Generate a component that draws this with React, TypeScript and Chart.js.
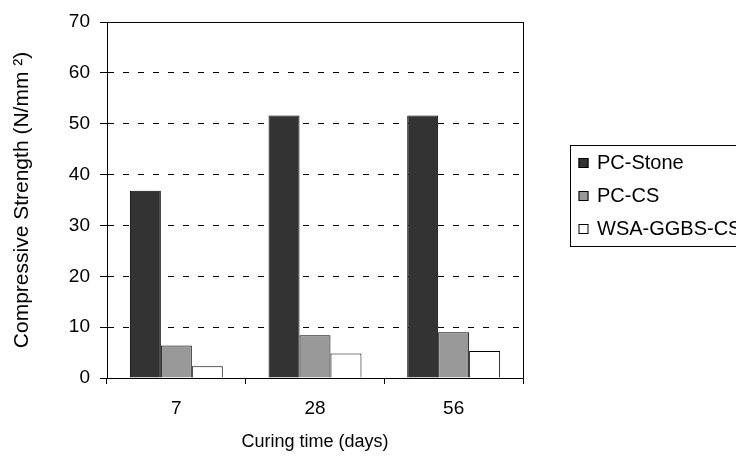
import React, { useEffect, useRef } from "react";
import { Chart, registerables } from "chart.js";

Chart.register(...registerables);

const categories = ["7", "28", "56"];
const seriesLabels = ["PC-Stone", "PC-CS", "WSA-GGBS-CS"];
const pcStone = [36.8, 51.6, 51.6];
const pcCs = [6.4, 8.4, 9.0];
const wsaGgbsCs = [2.3, 4.8, 5.3];
const seriesColors = ["#333333", "#999999", "#ffffff"];
const yMin = 0;
const yMax = 70;
const yStep = 10;
const xTitle = "Curing time (days)";
const yTitle = "Compressive Strength (N/mm ²)";

const FONT = "'Liberation Sans', Arial, sans-serif";
const FS = 19;

const frameAndLegend = {
  id: "frameAndLegend",
  afterDraw(chart: any) {
    const { ctx, chartArea } = chart;
    ctx.save();
    ctx.strokeStyle = "#000";
    ctx.lineWidth = 1;
    ctx.setLineDash([]);
    ctx.strokeRect(
      Math.round(chartArea.left) + 0.5,
      Math.round(chartArea.top) + 0.5,
      Math.round(chartArea.right - chartArea.left),
      Math.round(chartArea.bottom - chartArea.top)
    );
    // legend
    const L = 570.5;
    const T = 145.5;
    const rowH = 33;
    const boxH = 101;
    ctx.strokeStyle = "#000";
    ctx.strokeRect(L, T, 260, boxH);
    ctx.font = `20px ${FONT}`;
    ctx.textBaseline = "middle";
    ctx.textAlign = "left";
    chart.data.datasets.forEach((ds: any, i: number) => {
      const cy = T + 17 + i * rowH;
      const mx = L + 8;
      const my = Math.round(cy - 5);
      ctx.fillStyle = ds.backgroundColor;
      ctx.fillRect(mx, my, 10, 10);
      ctx.strokeStyle = "#000";
      ctx.strokeRect(mx + 0.5, my + 0.5, 9, 9);
      ctx.fillStyle = "#000";
      ctx.fillText(ds.label, mx + 18.5, cy + 1);
    });
    ctx.restore();
  },
};

export default function App() {
  const ref = useRef<HTMLCanvasElement>(null);
  useEffect(() => {
    if (!ref.current) return;
    const datasetsValues = [pcStone, pcCs, wsaGgbsCs];
    const chart = new Chart(ref.current, {
      type: "bar",
      data: {
        labels: categories,
        datasets: datasetsValues.map((vals, i) => ({
          label: seriesLabels[i],
          data: vals,
          backgroundColor: seriesColors[i],
          borderColor: "#000",
          borderWidth: 1,
          categoryPercentage: 0.67,
          barPercentage: 1,
        })),
      },
      options: {
        responsive: false,
        animation: false,
        devicePixelRatio: 1,
        layout: { padding: { left: 0, top: 22, right: 213, bottom: 0 } },
        plugins: {
          legend: { display: false },
          tooltip: { enabled: false },
          title: { display: false },
        },
        scales: {
          x: {
            type: "category",
            offset: true,
            grid: {
              offset: true,
              drawOnChartArea: false,
              drawTicks: true,
              tickLength: 6,
              color: "#000",
              tickColor: "#000",
            },
            border: { display: true, color: "#000", width: 1 },
            ticks: {
              color: "#000",
              font: { family: FONT, size: FS },
              padding: 13,
              maxRotation: 0,
            },
            title: {
              display: true,
              text: xTitle,
              color: "#000",
              font: { family: FONT, size: 18 },
              padding: { top: 0, bottom: 4 },
            },
            afterFit(scale: any) {
              scale.height = 79;
            },
          },
          y: {
            type: "linear",
            min: yMin,
            max: yMax,
            ticks: {
              stepSize: yStep,
              color: "#000",
              font: { family: FONT, size: FS },
              padding: 10,
            },
            grid: {
              drawTicks: true,
              tickLength: 7,
              color: (c: any) =>
                c.tick && (c.tick.value === yMin || c.tick.value === yMax)
                  ? "rgba(0,0,0,0)"
                  : "#000",
              tickColor: "#000",
              lineWidth: 1,
            },
            border: { display: true, color: "#000", width: 1, dash: [6, 9] },
            title: {
              display: true,
              text: yTitle,
              color: "#000",
              font: { family: FONT, size: 21 },
              padding: { top: 10, bottom: 0 },
            },
            afterFit(scale: any) {
              scale.width = 107;
            },
          },
        },
      },
      plugins: [frameAndLegend],
    });
    return () => chart.destroy();
  }, []);
  return (
    <div style={{ position: "fixed", left: 0, top: 0, width: 736, height: 457, background: "#fff" }}>
      <canvas ref={ref} width={736} height={457} style={{ width: 736, height: 457, display: "block" }} />
    </div>
  );
}
